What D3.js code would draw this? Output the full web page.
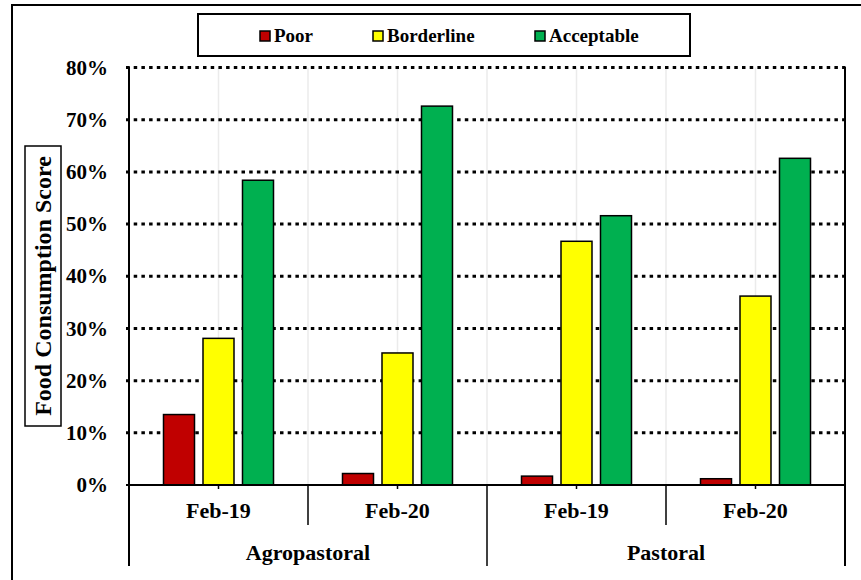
<!DOCTYPE html>
<html>
<head>
<meta charset="utf-8">
<script src="https://cdn.jsdelivr.net/npm/d3@7"></script>
<style>
  html, body { margin: 0; padding: 0; background: #fff; }
  svg { display: block; }
  text { font-family: "Liberation Serif", "Times New Roman", serif; font-weight: bold; fill: #000; }
</style>
</head>
<body>
<svg id="chart" width="861" height="580"></svg>
<script>
// Food Consumption Score by livelihood zone and survey round
const zones = ["Agropastoral", "Pastoral"];
const rounds = ["Feb-19", "Feb-20"];
const series = ["Poor", "Borderline", "Acceptable"];
const poor = [13.5, 2.2, 1.7, 1.2];
const borderline = [28.1, 25.3, 46.7, 36.2];
const acceptable = [58.4, 72.6, 51.6, 62.6];
const yTicks = [0, 10, 20, 30, 40, 50, 60, 70, 80];
const colors = ["#C00000", "#FFFF00", "#00B050"];

const slots = [];
zones.forEach(z => rounds.forEach(r => slots.push({ zone: z, round: r, key: z + "|" + r })));
const values = [poor, borderline, acceptable];

const svg = d3.select("#chart");
const plotLeft = 129, plotRight = 845, plotTop = 67.5, plotBase = 485;

// outer frame
svg.append("rect").attr("x", 12).attr("y", 5).attr("width", 870).attr("height", 600)
  .attr("fill", "none").attr("stroke", "#000").attr("stroke-width", 2);

const x0 = d3.scaleBand().domain(slots.map(d => d.key)).range([plotLeft, plotRight]);
const x1 = d3.scaleBand().domain(series).range([0, 110]).paddingInner(0.215).paddingOuter(0);
const y = d3.scaleLinear().domain([0, 80]).range([plotBase, plotTop]);

// faint vertical guides at half-category spacing
const half = x0.bandwidth() / 2;
const guides = d3.range(0, slots.length * 2 + 1).map(i => plotLeft + i * half);
svg.append("g").selectAll("line").data(guides).join("line")
  .attr("x1", d => d).attr("x2", d => d).attr("y1", plotTop).attr("y2", plotBase)
  .attr("stroke", "#ebebeb").attr("stroke-width", 1.5);

// dotted horizontal gridlines
svg.append("g").selectAll("line").data(yTicks.filter(t => t > 0)).join("line")
  .attr("x1", plotLeft - 3).attr("x2", plotRight).attr("y1", d => y(d)).attr("y2", d => y(d))
  .attr("stroke", "#000").attr("stroke-width", 3).attr("stroke-dasharray", "3.5,4.2");

// bars
const rows = [];
slots.forEach((s, i) => series.forEach((name, k) => rows.push({ key: s.key, name, k, v: values[k][i] })));
svg.append("g").selectAll("rect").data(rows).join("rect")
  .attr("x", d => x0(d.key) + half - 55 + x1(d.name))
  .attr("width", x1.bandwidth())
  .attr("y", d => y(d.v))
  .attr("height", d => plotBase - y(d.v))
  .attr("fill", d => colors[d.k])
  .attr("stroke", "#000").attr("stroke-width", 1.5);

// y axis
const yAxis = d3.axisLeft(y).tickValues(yTicks).tickSize(0).tickPadding(21).tickFormat(d => d + "%");
const gy = svg.append("g").attr("transform", `translate(${plotLeft},0)`).call(yAxis);
gy.select(".domain").remove();
gy.selectAll("text").style("font-size", "21px").style("font-family", "Liberation Serif").style("font-weight", "bold");

// axis frame lines
svg.append("line").attr("x1", plotLeft).attr("x2", plotLeft).attr("y1", plotTop - 1).attr("y2", 566)
  .attr("stroke", "#000").attr("stroke-width", 2);
svg.append("line").attr("x1", plotRight).attr("x2", plotRight).attr("y1", plotTop - 1).attr("y2", 566)
  .attr("stroke", "#000").attr("stroke-width", 2);
svg.append("line").attr("x1", plotLeft - 3).attr("x2", plotRight).attr("y1", plotBase).attr("y2", plotBase)
  .attr("stroke", "#000").attr("stroke-width", 2);

// category ticks and dividers
svg.append("g").selectAll("line").data(slots).join("line")
  .attr("x1", d => x0(d.key) + half).attr("x2", d => x0(d.key) + half)
  .attr("y1", plotBase).attr("y2", plotBase + 4).attr("stroke", "#000").attr("stroke-width", 1.5);
svg.append("g").selectAll("line").data(slots.filter((d, i) => i % 2 === 1)).join("line")
  .attr("x1", d => x0(d.key)).attr("x2", d => x0(d.key))
  .attr("y1", plotBase).attr("y2", 525).attr("stroke", "#000").attr("stroke-width", 1.5);
svg.append("g").selectAll("line").data([slots[2]]).join("line")
  .attr("x1", d => x0(d.key)).attr("x2", d => x0(d.key))
  .attr("y1", plotBase).attr("y2", 566).attr("stroke", "#000").attr("stroke-width", 1.5);

// category labels
svg.append("g").selectAll("text").data(slots).join("text")
  .attr("x", d => x0(d.key) + half).attr("y", 518)
  .attr("text-anchor", "middle").style("font-size", "22px")
  .text(d => d.round);
svg.append("g").selectAll("text").data(zones).join("text")
  .attr("x", (z, i) => x0(slots[i * 2].key) + x0.bandwidth())
  .attr("y", 560).attr("text-anchor", "middle").style("font-size", "22px")
  .text(d => d);

// y-axis title in a box
const tg = svg.append("g").attr("transform", "translate(43,286) rotate(-90)");
tg.append("rect").attr("x", -140).attr("y", -18).attr("width", 280).attr("height", 36)
  .attr("fill", "#fff").attr("stroke", "#000").attr("stroke-width", 1.5);
tg.append("text").attr("text-anchor", "middle").attr("y", 8)
  .style("font-size", "24px").text("Food Consumption Score");

// legend
const lg = svg.append("g");
lg.append("rect").attr("x", 198).attr("y", 14).attr("width", 492).attr("height", 42)
  .attr("fill", "#fff").attr("stroke", "#000").attr("stroke-width", 2);
const legendX = [260, 373, 535];
const items = lg.selectAll("g.item").data(series).join("g").attr("class", "item")
  .attr("transform", (d, i) => `translate(${legendX[i]},0)`);
items.append("rect").attr("x", 0).attr("y", 31).attr("width", 10).attr("height", 10)
  .attr("fill", (d, i) => colors[i]).attr("stroke", "#000").attr("stroke-width", 1.5);
items.append("text").attr("x", 14).attr("y", 42).style("font-size", "19px").text(d => d);
</script>
</body>
</html>
